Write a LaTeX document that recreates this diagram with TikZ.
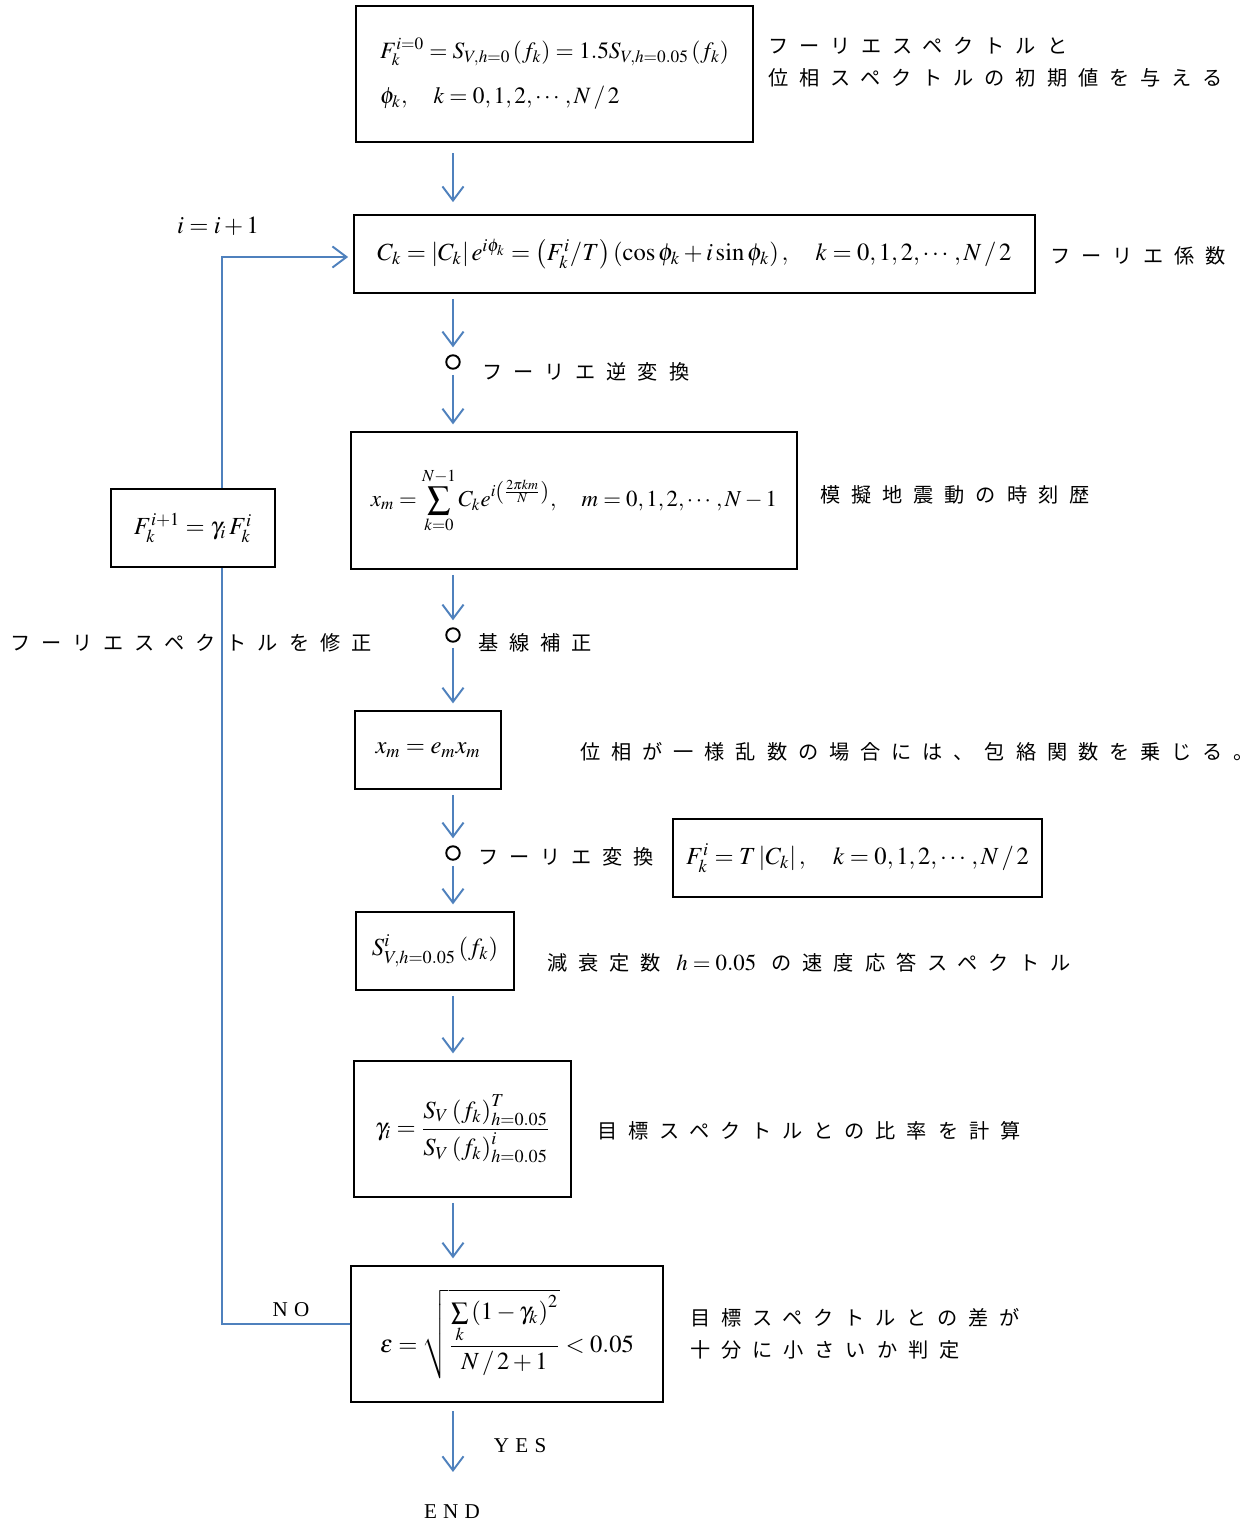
\documentclass[tikz,border=0pt]{standalone}
\usepackage{amsmath}
\usepackage{mathptmx}
\usepackage{fontspec}
\setmainfont{Liberation Serif}
\newfontfamily\jp[LetterSpace=54]{Noto Sans CJK JP}
\newfontfamily\capsfont[LetterSpace=30]{Liberation Serif}
\usetikzlibrary{arrows.meta}
\definecolor{flowblue}{RGB}{79,129,189}

\begin{document}
\begin{tikzpicture}[scale=0.2]
	\tikzstyle{every node}+=[inner sep=0pt]
	\tikzstyle{blk}=[draw=black, line width=0.7pt, font=\fontsize{14}{20}\selectfont]
	\tikzstyle{flow}=[draw=flowblue, line width=1.1pt, -{Straight Barb[length=8pt,width=12pt]}, shorten <=3pt, shorten >=4pt]
	\tikzstyle{back}=[draw=flowblue, line width=1.1pt]
	\tikzstyle{ring}=[draw=black, line width=1.1pt, circle, minimum size=0.27cm]
	\tikzstyle{lab}=[anchor=west, font=\jp\fontsize{11.5}{18}\selectfont]
	\tikzstyle{word}=[font=\capsfont\fontsize{12}{14}\selectfont]
	\useasboundingbox (0,0) rectangle (125.2,-152.4);
	\coordinate (col) at (45.3,0);
	\coordinate (lx) at (22.2,0);
	\coordinate (stop) at (45.3,-147.2);
	\node [blk, font=\fontsize{13.3}{20}\selectfont, minimum width=7.94cm, minimum height=2.72cm, align=left] (b1) at (55.45,-7.4) {$F_k^{i=0} = S_{V,h=0}\left(f_k\right) = 1.5S_{V,h=0.05}\left(f_k\right)$\\[6pt]$\phi_k,\quad k=0,1,2,\cdots,N\,/\,2$};
	\node [blk, minimum width=13.62cm, minimum height=1.56cm] (b2) at (69.45,-25.4) {$C_k = \left|C_k\right| e^{i\phi_k} = \left(F_k^i/T\right)\left(\cos\phi_k + i\sin\phi_k\right),\quad k=0,1,2,\cdots,N\,/\,2$};
	\node [ring] (r1) at (45.3,-36.2) {};
	\node [blk, font=\fontsize{13}{20}\selectfont, minimum width=8.92cm, minimum height=2.74cm] (b3) at (57.4,-50.05) {$\displaystyle x_m = \sum_{k=0}^{N-1} C_k e^{i\left(\frac{2\pi km}{N}\right)},\quad m=0,1,2,\cdots,N-1$};
	\node [blk, minimum width=3.28cm, minimum height=1.56cm] (fb) at (19.3,-52.8) {$F_k^{i+1} = \gamma_i\, F_k^i$};
	\node [ring] (r2) at (45.3,-63.5) {};
	\node [blk, minimum width=2.92cm, minimum height=1.56cm] (b4) at (42.8,-75) {$x_m = e_m x_m$};
	\node [ring] (r3) at (45.3,-85.3) {};
	\node [blk, minimum width=7.38cm, minimum height=1.56cm] (bf) at (85.75,-85.8) {$F_k^i = T\left|C_k\right|,\quad k=0,1,2,\cdots,N\,/\,2$};
	\node [blk, minimum width=3.16cm, minimum height=1.56cm] (b5) at (43.5,-95.1) {$S^i_{V,h=0.05}\left(f_k\right)$};
	\node [blk, minimum width=4.34cm, minimum height=2.72cm] (b6) at (46.25,-112.9) {$\gamma_i = \dfrac{S_V\left(f_k\right)^T_{h=0.05}}{S_V\left(f_k\right)^i_{h=0.05}}$};
	\node [blk, minimum width=6.24cm, minimum height=2.72cm] (b7) at (50.7,-133.4) {$\varepsilon = \sqrt{\dfrac{\sum\limits_k \left(1-\gamma_k\right)^2}{N\,/\,2+1}} < 0.05$};
	\draw [flow, shorten <=6pt, shorten >=7pt] (b1.south -| col) -- (b2.north -| col);
	\draw [flow] (b2.south -| col) -- (r1.north -| col);
	\draw [flow] (r1.south -| col) -- (b3.north -| col);
	\draw [flow] (b3.south -| col) -- (r2.north -| col);
	\draw [flow] (r2.south -| col) -- (b4.north -| col);
	\draw [flow] (b4.south -| col) -- (r3.north -| col);
	\draw [flow] (r3.south -| col) -- (b5.north -| col);
	\draw [flow] (b5.south -| col) -- (b6.north -| col);
	\draw [flow] (b6.south -| col) -- (b7.north -| col);
	\draw [flow, shorten >=0pt, shorten <=5pt] (b7.south -| col) -- (stop);
	\draw [back] ([yshift=1cm]b7.west) -| (fb.south -| lx);
	\draw [flow, shorten <=0pt, shorten >=3pt] (fb.north -| lx) |- ([yshift=-0.3cm]b2.west);
	\node (inc) at (21.8,-22.6) {\fontsize{14}{16}\selectfont$i=i+1$};
	\node [word] (no) at (29.1,-131) {NO};
	\node [word] (yes) at (52,-144.6) {YES};
	\node [word] (endtxt) at (45.2,-151.2) {END};
	\node [lab, align=left] (t1) at (76.8,-6.2) {フーリエスペクトルと\\位相スペクトルの初期値を与える};
	\node [lab] (t2) at (105,-25.6) {フーリエ係数};
	\node [lab] (t3) at (48.2,-37.2) {フーリエ逆変換};
	\node [lab] (t4) at (82,-49.5) {模擬地震動の時刻歴};
	\node [lab] (t5) at (47.8,-64.3) {基線補正};
	\node [lab] (t6) at (1,-64.3) {フーリエスペクトルを修正};
	\node [lab] (t7) at (58,-75.2) {位相が一様乱数の場合には、包絡関数を乗じる。};
	\node [lab] (t8) at (47.8,-85.7) {フーリエ変換};
	\node [lab] (t9) at (54.7,-96.3) {減衰定数 {\fontsize{13}{16}\selectfont$h=0.05$} の速度応答スペクトル};
	\node [lab] (t10) at (59.7,-113.1) {目標スペクトルとの比率を計算};
	\node [lab, align=left] (t11) at (69,-133.4) {目標スペクトルとの差が\\十分に小さいか判定};
\end{tikzpicture}
\end{document}
